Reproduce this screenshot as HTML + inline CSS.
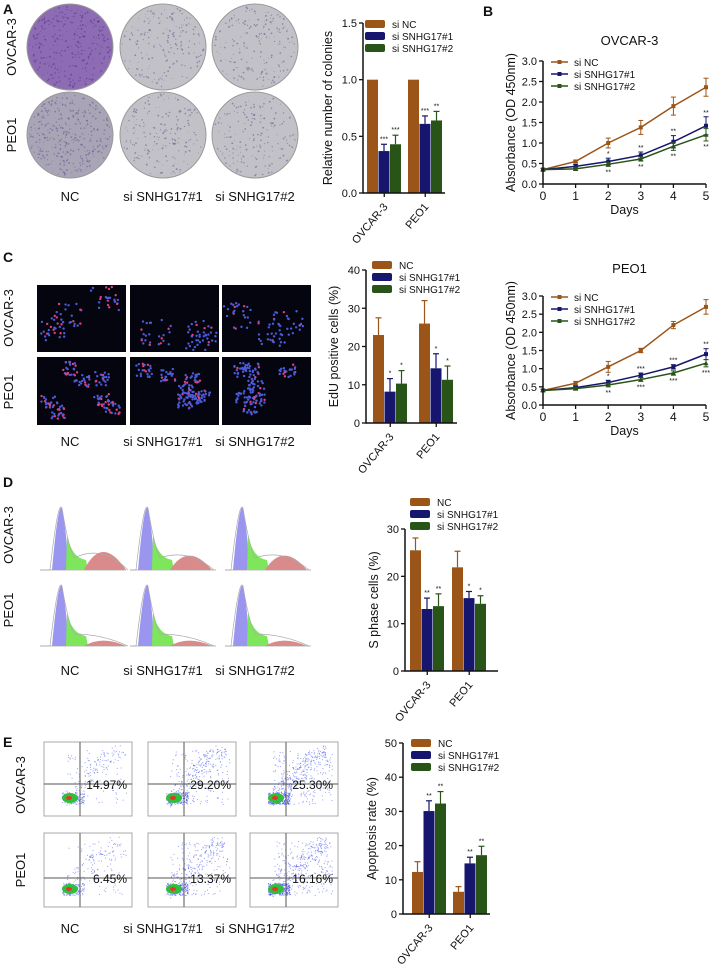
<!DOCTYPE html>
<html><head><meta charset="utf-8"><style>
body{margin:0;background:#fff}
svg{display:block;font-family:"Liberation Sans",Arial,sans-serif}
</style></head><body>
<svg id="fig" width="715" height="965" viewBox="0 0 715 965" xmlns="http://www.w3.org/2000/svg"></svg>
<script>
const COLORS=['#9b5518','#16166e','#285418'];
// Panel A bars
const groups=['OVCAR-3','PEO1'];
const aVals=[[1,0.37,0.43],[1,0.61,0.64]];
const aErr=[[0,0.06,0.08],[0,0.07,0.08]];
const aStars=[['','***','***'],['','***','**']];
const aTicks=[0,0.5,1.0,1.5];
// Panel C bars
const cVals=[[23,8.2,10.3],[26,14.3,11.3]];
const cErr=[[4.5,3.4,3.4],[6,3.8,3.6]];
const cStars=[['','*','*'],['','*','*']];
const cTicks=[0,10,20,30,40];
// Panel D bars
const dVals=[[25.5,13.1,13.7],[21.9,15.4,14.2]];
const dErr=[[2.6,2.3,2.6],[3.4,1.4,1.7]];
const dStars=[['','**','**'],['','*','*']];
const dTicks=[0,10,20,30];
// Panel E bars
const eVals=[[12.3,30.1,32.3],[6.5,14.8,17.2]];
const eErr=[[3,3,3.5],[1.5,1.8,2.6]];
const eStars=[['','**','**'],['','**','**']];
const eTicks=[0,10,20,30,40,50];
// Panel B lines
const days=[0,1,2,3,4,5];
const bTicks=[0,0.5,1.0,1.5,2.0,2.5,3.0];
const ovNC=[0.35,0.55,1.0,1.38,1.9,2.36];
const ovNCe=[0.03,0.03,0.12,0.17,0.22,0.22];
const ov1=[0.35,0.43,0.55,0.70,1.03,1.42];
const ov1e=[0.03,0.05,0.08,0.08,0.15,0.22];
const ov2=[0.35,0.37,0.48,0.61,0.92,1.20];
const ov2e=[0.03,0.04,0.05,0.05,0.1,0.15];
const peNC=[0.4,0.6,1.05,1.5,2.2,2.7];
const peNCe=[0.03,0.05,0.15,0.06,0.1,0.2];
const pe1=[0.4,0.48,0.62,0.82,1.05,1.4];
const pe1e=[0.03,0.04,0.06,0.06,0.06,0.15];
const pe2=[0.4,0.45,0.55,0.7,0.88,1.15];
const pe2e=[0.03,0.04,0.05,0.05,0.06,0.1];

const NS='http://www.w3.org/2000/svg';
const svg=document.getElementById('fig');
function el(tag,attrs,parent,txt){const e=document.createElementNS(NS,tag);for(const k in attrs)e.setAttribute(k,attrs[k]);if(txt!==undefined)e.textContent=txt;(parent||svg).appendChild(e);return e;}
function grp(name,parent){const g=el('g',{},parent);return g;}
function txt(parent,x,y,s,size,name,opt){opt=opt||{};const t=el('text',{x:x,y:y,'font-size':size,'text-anchor':opt.anchor||'middle',fill:'#111','font-weight':opt.bold?'bold':'normal',transform:opt.rot?`rotate(${opt.rot} ${x} ${y})`:''},parent,s);return t;}

let seed=7;function rnd(){seed=(seed*16807)%2147483647;return seed/2147483647;}

[['A',3,14],['B',483,16],['C',3,262],['D',3,487],['E',3,747]].forEach(p=>txt(svg,p[1],p[2],p[0],14,'panel-label-'+p[0].toLowerCase(),{anchor:'start',bold:1}));

const colX=[70,163,255];
const condNames=['NC','si SNHG17#1','si SNHG17#2'];
function rowColLabels(g,rowYs,labY,rowX){
  txt(g,rowX,rowYs[0],'OVCAR-3',13,'row-label-ovcar3',{rot:-90});
  txt(g,rowX,rowYs[1],'PEO1',13,'row-label-peo1',{rot:-90});
  condNames.forEach((n,i)=>txt(g,colX[i],labY,n,13,'column-label-'+i));
}

// Panel A dishes
const gA=grp('colony-dishes');
[[47,'ovcar3'],[135,'peo1']].forEach(([cy,r],ri)=>{
  colX.forEach((cx,ci)=>{
    const nc=ri==0&&ci==0;
    const c=el('circle',{cx:cx,cy:cy,r:43,fill:nc?'#8d6cb4':(ci==0?'#a9a4b6':'#c3c1c8'),stroke:'#999','stroke-width':1},gA);
    
    const n=nc?300:(ci==0?350:180);
    for(let k=0;k<n;k++){const a=rnd()*6.28,rr=Math.sqrt(rnd())*41;el('circle',{cx:cx+rr*Math.cos(a),cy:cy+rr*Math.sin(a),r:0.4+rnd()*0.6,fill:nc?'#5a2f8f':'#6a5a8a',opacity:0.55},gA);}
  });
});
rowColLabels(gA,[47,135],201,16);

function barChart(name,x0,x1,y0,y1,ticks,vals,errs,stars,groupStarts,ylabel,labelX,legend,legendNames,fmt){
  const g=grp(name);
  const tmax=ticks[ticks.length-1];
  const ys=v=>y0-(v/tmax)*(y0-y1);
  const bw=11;
  vals.forEach((gv,gi)=>{
    gv.forEach((v,si)=>{
      const bx=groupStarts[gi]+si*(bw+0.5);
      const top=ys(v+errs[gi][si]);
      if(errs[gi][si]>0){el('line',{x1:bx+bw/2,x2:bx+bw/2,y1:ys(v),y2:top,stroke:COLORS[si],'stroke-width':1.2},g);el('line',{x1:bx+bw/2-3,x2:bx+bw/2+3,y1:top,y2:top,stroke:COLORS[si],'stroke-width':1.2},g);}
      const r=el('rect',{x:bx,y:ys(v),width:bw,height:y0-ys(v),fill:COLORS[si]},g);
      
      if(stars[gi][si])txt(g,bx+bw/2,top-3,stars[gi][si],7,'significance-mark');
    });
    const cx=groupStarts[gi]+1.5*(bw+0.5);
    el('line',{x1:cx,x2:cx,y1:y0,y2:y0+4,stroke:'#111','stroke-width':1.3},g);
    txt(g,cx+4,y0+14,groups[gi],11,'x-tick-label',{anchor:'end',rot:-50});
  });
  el('line',{x1:x0,x2:x0,y1:y1,y2:y0+0.6,stroke:'#111','stroke-width':1.5},g);
  el('line',{x1:x0,x2:x1,y1:y0,y2:y0,stroke:'#111','stroke-width':1.5},g);
  ticks.forEach(t=>{el('line',{x1:x0-4,x2:x0,y1:ys(t),y2:ys(t),stroke:'#111','stroke-width':1.3},g);txt(g,x0-6,ys(t)+4,fmt?t.toFixed(1):String(t),11,'y-tick-label',{anchor:'end'});});
  txt(g,labelX,(y0+y1)/2,ylabel,12.5,'y-axis-title',{rot:-90});
  legendNames.forEach((n,i)=>{const ly=legend[1]+i*12;el('rect',{x:legend[0],y:ly-4,width:20,height:8,rx:2,fill:COLORS[i]},g);txt(g,legend[0]+27,ly+4,n,10,'legend-entry-'+i,{anchor:'start'});});
}
const LN3=['si NC','si SNHG17#1','si SNHG17#2'];
const LN=['NC','si SNHG17#1','si SNHG17#2'];
barChart('colony-bar-chart',363,445,193,23,aTicks,aVals,aErr,aStars,[367,408],'Relative number of colonies',332,[365,24],LN3,true);
barChart('edu-bar-chart',366,457,423,270,cTicks,cVals,cErr,cStars,[373,419],'EdU positive cells (%)',338,[372,265],LN);
barChart('s-phase-bar-chart',405,498,671,529,dTicks,dVals,dErr,dStars,[410,452],'S phase cells (%)',378,[410,502],LN);
barChart('apoptosis-bar-chart',403,490,914,743,eTicks,eVals,eErr,eStars,[412,453],'Apoptosis rate (%)',376,[411,743],LN);

function lineChart(name,title,x0,x1,y0,y1,titleY,series,errsArr,starsTop,starsBot){
  const g=grp(name);
  const xs=d=>x0+d/5*(x1-x0);const ys=v=>y0-(v/3)*(y0-y1);
  txt(g,(x0+x1)/2+5,titleY,title,13,'chart-title');
  series.forEach((s,si)=>{
    const sg=grp('series-'+si,g);
    el('polyline',{points:days.map((d,i)=>xs(d)+','+ys(s[i])).join(' '),fill:'none',stroke:COLORS[si],'stroke-width':1.5},sg);
    days.forEach((d,i)=>{const e=errsArr[si][i];el('line',{x1:xs(d),x2:xs(d),y1:ys(s[i]-e),y2:ys(s[i]+e),stroke:COLORS[si],'stroke-width':1},sg);el('line',{x1:xs(d)-2.5,x2:xs(d)+2.5,y1:ys(s[i]+e),y2:ys(s[i]+e),stroke:COLORS[si]},sg);el('line',{x1:xs(d)-2.5,x2:xs(d)+2.5,y1:ys(s[i]-e),y2:ys(s[i]-e),stroke:COLORS[si]},sg);
      const m=si==2?el('polygon',{points:`${xs(d)},${ys(s[i])-2.5} ${xs(d)-2.5},${ys(s[i])+2} ${xs(d)+2.5},${ys(s[i])+2}`,fill:COLORS[si]},sg):el('rect',{x:xs(d)-2,y:ys(s[i])-2,width:4,height:4,fill:COLORS[si]},sg);
      });
  });
  days.forEach((d,i)=>{if(starsTop[i])txt(g,xs(d),ys(series[1][i]+errsArr[1][i])-2,starsTop[i],7,'significance-mark');if(starsBot[i])txt(g,xs(d),ys(series[2][i]-errsArr[2][i])+8,starsBot[i],7,'significance-mark');});
  el('line',{x1:x0,x2:x0,y1:y1,y2:y0,stroke:'#111','stroke-width':1.5},g);
  el('line',{x1:x0,x2:x1,y1:y0,y2:y0,stroke:'#111','stroke-width':1.5},g);
  bTicks.forEach(t=>{el('line',{x1:x0-4,x2:x0,y1:ys(t),y2:ys(t),stroke:'#111','stroke-width':1.3},g);txt(g,x0-6,ys(t)+4,t.toFixed(1),11,'y-tick-label',{anchor:'end'});});
  days.forEach(d=>{el('line',{x1:xs(d),x2:xs(d),y1:y0,y2:y0+4,stroke:'#111','stroke-width':1.3},g);txt(g,xs(d),y0+16,String(d),12,'x-tick-label');});
  txt(g,(x0+x1)/2,y0+30,'Days',12.5,'x-axis-title');
  txt(g,x0-28,(y0+y1)/2,'Absorbance (OD 450nm)',12.5,'y-axis-title',{rot:-90});
  LN3.forEach((n,i)=>{const ly=y1+1+i*12;el('line',{x1:x0+8,x2:x0+25,y1:ly,y2:ly,stroke:COLORS[i],'stroke-width':1.5},g);el('rect',{x:x0+14.5,y:ly-2,width:4,height:4,fill:COLORS[i]},g);txt(g,x0+31,ly+4,n,10,'legend-entry-'+i,{anchor:'start'});});
}
lineChart('ovcar3-growth-chart','OVCAR-3',543,706,184,61,45,[ovNC,ov1,ov2],[ovNCe,ov1e,ov2e],['','','*','**','**','**'],['','','**','**','**','**']);
lineChart('peo1-growth-chart','PEO1',543,706,405,296,273,[peNC,pe1,pe2],[peNCe,pe1e,pe2e],['','','*','***','***','**'],['','','**','***','***','***']);

// Panel C fluorescence
const gC=grp('edu-images');
const cxs=[37,130,222];
[[285,67],[357,68]].forEach(([y,h],ri)=>{cxs.forEach((x,ci)=>{
  const r=el('rect',{x:x,y:y,width:89,height:h,fill:'#05050f'},gC);
  const nClusters=ri==0?3:7;
  for(let c=0;c<nClusters;c++){const ccx=x+12+rnd()*65,ccy=y+10+rnd()*(h-20);const n=ri==0?25:22;
    for(let k=0;k<n;k++){const pink=rnd()<(ci==0?0.4:0.15);const px=ccx+(rnd()-0.5)*(ri==0?30:16),py=ccy+(rnd()-0.5)*(ri==0?26:14);
      if(px<x+2||px>x+87||py<y+2||py>y+h-2)continue;
      el('circle',{cx:px,cy:py,r:1.2,fill:pink?'#e0407a':'#4a5ad8'},gC);}}
});});
rowColLabels(gC,[318,392],446,13);

// Panel D histograms
const gD=grp('cell-cycle-histograms');
const dxs=[40,130,225];
[[570,'o'],[646,'p']].forEach(([base,r],ri)=>{dxs.forEach((x,ci)=>{
  const pk=x+(ci==0?22:18);
  const h=ri==0?62:60;
  el('line',{x1:x,x2:x+86,y1:base,y2:base,stroke:'#bbb'},gD);
  el('path',{d:`M${pk-10},${base} Q${pk-4},${base-h*1.1} ${pk},${base-h} Q${pk+5},${base-h*0.6} ${pk+6},${base} Z`,fill:'#9a96f0'},gD);
  el('path',{d:`M${pk+4},${base} L${pk+5},${base-h*0.55} Q${pk+10},${base-12} ${pk+24},${base-10} L${pk+26},${base} Z`,fill:'#7ee65a'},gD);
  const sh=ri==0?(ci==0?20:16):6;
  el('path',{d:`M${pk+22},${base} Q${pk+40},${base-sh*1.8} ${pk+64},${base} Z`,fill:'#d98a8a'},gD);
  const p=el('path',{d:`M${x},${base} L${pk-12},${base} Q${pk-4},${base-h*1.15} ${pk},${base-h} Q${pk+6},${base-h*0.4} ${pk+12},${base-12} Q${pk+40},${base-sh-6} ${pk+66},${base}`,fill:'none',stroke:'#aaa','stroke-width':0.7},gD);
  
});});
rowColLabels(gD,[535,610],675,13);

// Panel E flow plots
const gE=grp('flow-cytometry-plots');
const ex=[44,148,250];
const pct=[['14.97%','29.20%','25.30%'],['6.45%','13.37%','16.16%']];
[[742,784],[833,878]].forEach(([y,hy],ri)=>{ex.forEach((x,ci)=>{
  const w=88,h=74;
  const r=el('rect',{x:x,y:y,width:w,height:h,fill:'#fff',stroke:'#aaa'},gE);
  const n=300+ci*200;
  for(let k=0;k<n;k++){let px,py;const u=rnd();
    if(u<0.4){px=x+18+rnd()*22;py=y+h-24+rnd()*12;}
    else if(u<0.7){const t=rnd();px=x+22+t*55;py=y+h-20-t*50+(rnd()-0.5)*22;}
    else{px=x+22+rnd()*60;py=y+8+rnd()*(h-20);}
    if(py<y+3||py>y+h-3||px>x+w-3)continue;
    el('rect',{x:px,y:py,width:1,height:1,fill:'#3344ee',opacity:0.5},gE);}
  el('ellipse',{cx:x+26,cy:y+h-18,rx:8,ry:5,fill:'#2fbf3a'},gE);
  el('ellipse',{cx:x+25,cy:y+h-18,rx:3,ry:2,fill:'#e8342a'},gE);
  el('line',{x1:x+36,x2:x+36,y1:y,y2:y+h,stroke:'#555','stroke-width':1},gE);
  el('line',{x1:x,x2:x+w,y1:hy,y2:hy,stroke:'#555','stroke-width':1},gE);
  txt(gE,x+w-5,hy+5,pct[ri][ci],12,'quadrant-percentage',{anchor:'end'});
});});
rowColLabels(gE,[785,870],933,25);
</script>
</body></html>
